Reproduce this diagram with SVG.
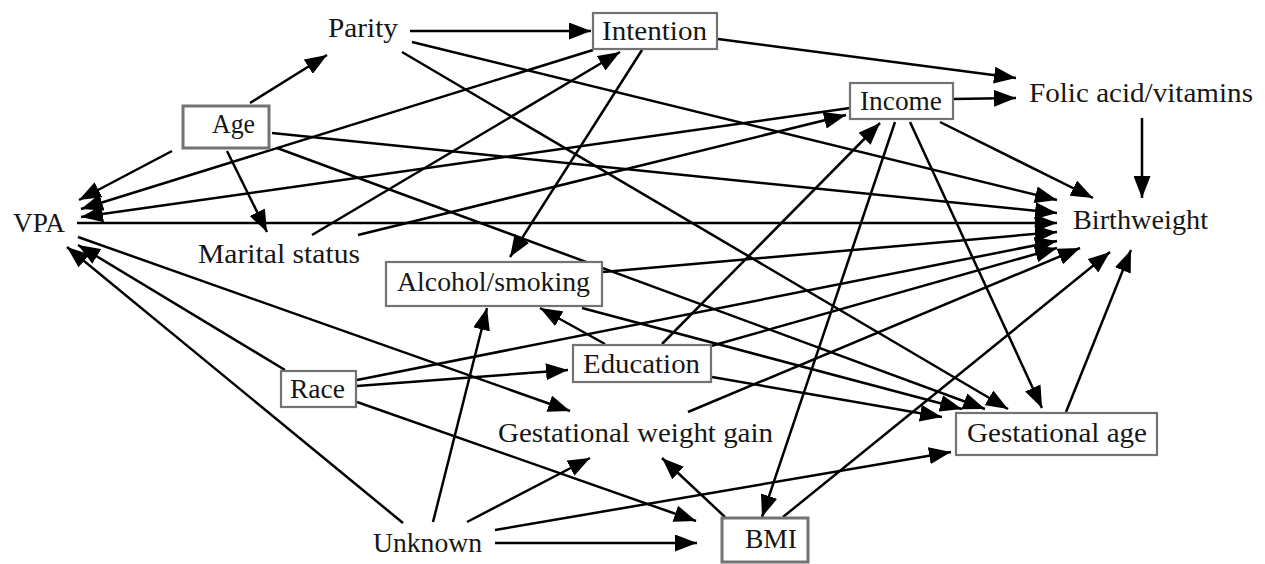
<svg xmlns="http://www.w3.org/2000/svg" width="1265" height="564" viewBox="0 0 1265 564">
  <style>
    .lbl { font-family: "Liberation Serif", "DejaVu Serif", serif; font-size: 27px; fill: #161616; }
    .box { fill: #fff; stroke: #737373; stroke-width: 2.2; }
    .box.bold { stroke-width: 3; }
    .edge { fill: none; stroke: #000; stroke-width: 2.5; marker-end: url(#arr); }
  </style>
  <defs>
    <marker id="arr" markerUnits="userSpaceOnUse" markerWidth="22" markerHeight="17" viewBox="0 0 22 17" refX="22" refY="8.5" orient="auto">
      <path d="M0,0 L22,8.5 L0,17 Z" fill="#000"/>
    </marker>
  </defs>

  <rect width="1265" height="564" fill="#fff"/>

  <!-- connectors -->
  <g id="edges">
    <line class="edge" x1="410" y1="31" x2="591" y2="31"/>
    <line class="edge" x1="412" y1="42" x2="1057" y2="200"/>
    <line class="edge" x1="402" y1="52" x2="1008" y2="409"/>
    <line class="edge" x1="250" y1="103" x2="327" y2="55"/>
    <line class="edge" x1="227" y1="151" x2="267" y2="232"/>
    <line class="edge" x1="172" y1="151" x2="79" y2="200"/>
    <line class="edge" x1="272" y1="133" x2="1057" y2="213"/>
    <line class="edge" x1="277" y1="148" x2="985" y2="409"/>
    <line class="edge" x1="718" y1="39" x2="1016" y2="78"/>
    <line class="edge" x1="593" y1="50" x2="81" y2="209"/>
    <line class="edge" x1="642" y1="50" x2="510" y2="257"/>
    <line class="edge" x1="953" y1="99" x2="1016" y2="98"/>
    <line class="edge" x1="940" y1="122" x2="1093" y2="198"/>
    <line class="edge" x1="910" y1="122" x2="1042" y2="408"/>
    <line class="edge" x1="895" y1="122" x2="762" y2="517"/>
    <line class="edge" x1="850" y1="108" x2="81" y2="217"/>
    <line class="edge" x1="312" y1="235" x2="620" y2="52"/>
    <line class="edge" x1="358" y1="235" x2="846" y2="115"/>
    <line class="edge" x1="77" y1="223" x2="1057" y2="223"/>
    <line class="edge" x1="78" y1="237" x2="570" y2="411"/>
    <line class="edge" x1="603" y1="272" x2="1057" y2="232"/>
    <line class="edge" x1="582" y1="308" x2="962" y2="409"/>
    <line class="edge" x1="605" y1="344" x2="540" y2="308"/>
    <line class="edge" x1="662" y1="344" x2="880" y2="123"/>
    <line class="edge" x1="711" y1="346" x2="1057" y2="248"/>
    <line class="edge" x1="712" y1="377" x2="942" y2="417"/>
    <line class="edge" x1="285" y1="370" x2="78" y2="245"/>
    <line class="edge" x1="357" y1="386" x2="568" y2="370"/>
    <line class="edge" x1="357" y1="380" x2="1057" y2="241"/>
    <line class="edge" x1="357" y1="402" x2="696" y2="521"/>
    <line class="edge" x1="403" y1="523" x2="67" y2="247"/>
    <line class="edge" x1="433" y1="522" x2="487" y2="308"/>
    <line class="edge" x1="467" y1="522" x2="590" y2="458"/>
    <line class="edge" x1="495" y1="530" x2="951" y2="452"/>
    <line class="edge" x1="495" y1="543" x2="697" y2="543"/>
    <line class="edge" x1="725" y1="517" x2="662" y2="458"/>
    <line class="edge" x1="783" y1="517" x2="1110" y2="252"/>
    <line class="edge" x1="688" y1="412" x2="1080" y2="248"/>
    <line class="edge" x1="1066" y1="412" x2="1131" y2="250"/>
    <line class="edge" x1="1142" y1="118" x2="1142" y2="198"/>
  </g>

  <!-- nodes -->
  <g id="parity"><text class="lbl" x="328" y="37" textLength="70" lengthAdjust="spacingAndGlyphs">Parity</text></g>
  <g id="intention">
    <rect class="box" x="593" y="13" width="124" height="36"/>
    <text class="lbl" x="602" y="40" textLength="105" lengthAdjust="spacingAndGlyphs">Intention</text>
  </g>
  <g id="folic"><text class="lbl" x="1029" y="102" textLength="224" lengthAdjust="spacingAndGlyphs">Folic acid/vitamins</text></g>
  <g id="income">
    <rect class="box" x="850" y="83" width="103" height="36"/>
    <text class="lbl" x="860" y="110" textLength="82" lengthAdjust="spacingAndGlyphs">Income</text>
  </g>
  <g id="age">
    <rect class="box bold" x="183" y="106" width="86" height="42"/>
    <text class="lbl" x="212" y="133" textLength="43" lengthAdjust="spacingAndGlyphs">Age</text>
  </g>
  <g id="vpa"><text class="lbl" x="13" y="232" textLength="52" lengthAdjust="spacingAndGlyphs">VPA</text></g>
  <g id="marital"><text class="lbl" x="198" y="263" textLength="162" lengthAdjust="spacingAndGlyphs">Marital status</text></g>
  <g id="birthweight"><text class="lbl" x="1073" y="229" textLength="135" lengthAdjust="spacingAndGlyphs">Birthweight</text></g>
  <g id="alcohol">
    <rect class="box" x="386" y="262" width="216" height="44"/>
    <text class="lbl" x="397" y="291" textLength="193" lengthAdjust="spacingAndGlyphs">Alcohol/smoking</text>
  </g>
  <g id="education">
    <rect class="box" x="573" y="345" width="138" height="37"/>
    <text class="lbl" x="583" y="373" textLength="117" lengthAdjust="spacingAndGlyphs">Education</text>
  </g>
  <g id="race">
    <rect class="box" x="281" y="371" width="75" height="36"/>
    <text class="lbl" x="290" y="398" textLength="55" lengthAdjust="spacingAndGlyphs">Race</text>
  </g>
  <g id="gwg"><text class="lbl" x="498" y="442" textLength="275" lengthAdjust="spacingAndGlyphs">Gestational weight gain</text></g>
  <g id="gestage">
    <rect class="box" x="956" y="413" width="201" height="42"/>
    <text class="lbl" x="967" y="442" textLength="180" lengthAdjust="spacingAndGlyphs">Gestational age</text>
  </g>
  <g id="unknown"><text class="lbl" x="373" y="552" textLength="109" lengthAdjust="spacingAndGlyphs">Unknown</text></g>
  <g id="bmi">
    <rect class="box bold" x="722" y="518" width="86" height="44"/>
    <text class="lbl" x="745" y="548" textLength="52" lengthAdjust="spacingAndGlyphs">BMI</text>
  </g>
</svg>
